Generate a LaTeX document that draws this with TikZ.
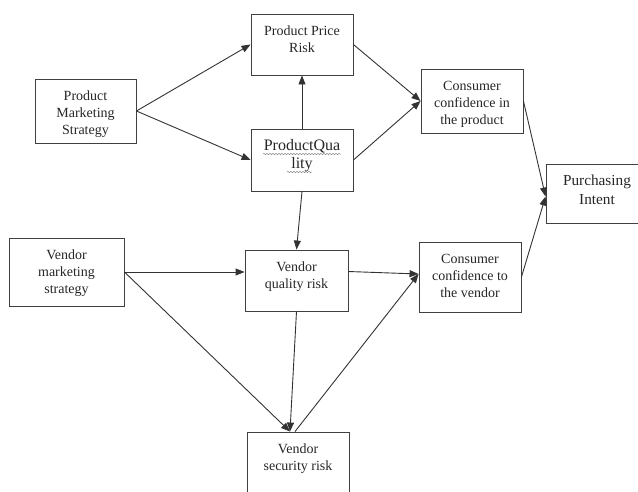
\documentclass[tikz,border=0pt]{standalone}
\usepackage{fontspec}
\setmainfont{Liberation Serif}
\usepackage{tikz}
\usetikzlibrary{positioning,%
  arrows.meta,%
  calc,%
  decorations.pathmorphing%
}

\begin{document}
\begin{tikzpicture}[x=1pt,y=-1pt,
    box/.style={draw=black!75, line width=0.9pt, text=black!85, minimum width=102pt, inner xsep=0pt, inner ysep=0pt, align=center, font=\fontsize{14}{17.4}\selectfont},
    link/.style={draw=black!80, line width=0.9pt, -{Triangle[length=9pt,width=7pt]}},
    squiggle/.style={draw=black!45, line width=0.5pt, decorate, decoration={snake, amplitude=0.7pt, segment length=3pt}}]
    \useasboundingbox (0,0) rectangle (638,491);
    \clip (0,0) rectangle (638,491);

    \node[box, minimum width=101pt, text height=55.8pt, text depth=8.2pt] (pms) at (85.5,111) {Product\\Marketing\\Strategy};
    \node[box, text height=38.4pt, text depth=22.6pt] (ppr) at (302,44.5) {Product Price\\Risk};
    \node[box, text height=39.5pt, text depth=22.5pt, font=\fontsize{16}{18.5}\selectfont] (pq) at (302,160) {ProductQua\\lity};
    \node[box, text height=55.8pt, text depth=8.2pt] (ccp) at (472,101) {Consumer\\confidence in\\the product};
    \node[box, text height=40pt, text depth=19pt, font=\fontsize{15.3}{19}\selectfont] (pi) at (597,193.5) {Purchasing\\Intent};
    \node[box, minimum width=115pt, text height=55.8pt, text depth=12.2pt] (vms) at (66.5,272) {Vendor\\marketing\\strategy};
    \node[box, minimum width=103pt, text height=38.4pt, text depth=22.6pt] (vqr) at (296.5,280.5) {Vendor\\quality risk};
    \node[box, text height=55.8pt, text depth=14.2pt] (ccv) at (470,277) {Consumer\\confidence to\\the vendor};
    \node[box, text height=38.4pt, text depth=41.6pt] (vsr) at (298,472) {Vendor\\security risk};

    % spell-check marks
    \draw[squiggle] ($(pq.center)+(-39,-6)$) -- ($(pq.center)+(39,-6)$);
    \draw[squiggle] ($(pq.center)+(-15,12)$) -- ($(pq.center)+(10,12)$);

    \draw[link] (pms.east) -- (ppr.west);
    \draw[link] (pms.east) -- (pq.west);
    \draw[link] (pq.north) -- (ppr.south);
    \draw[link] (pq.south) -- (vqr.north);
    \draw[link] (ppr.east) -- (ccp.west);
    \draw[link] (pq.east) -- (ccp.west);
    \draw[link] (ccp.east) -- ([yshift=-3pt]pi.west);
    \draw[link] (ccv.east) -- ([yshift=-3pt]pi.west);
    \draw[link] (vms.east) -- (vms.east -| vqr.west);
    \draw[link] (vms.east) -- ([xshift=-8pt]vsr.north);
    \draw[link] (vqr.south) -- ([xshift=-8pt]vsr.north);
    \draw[link] ([yshift=9pt]vqr.east) -- ([yshift=3pt]ccv.west);
    \draw[link] ([xshift=-3pt]vsr.north) -- ([yshift=3pt]ccv.west);
\end{tikzpicture}
\end{document}
